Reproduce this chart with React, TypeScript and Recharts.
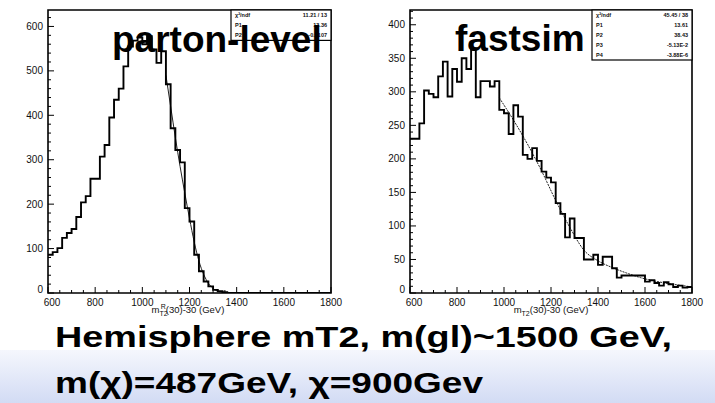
import React from "react";
import {
  ComposedChart,
  Line,
  XAxis,
  YAxis,
  ReferenceArea,
} from "recharts";

// bin lower edges (20 GeV bins), last entry closes the final bin
const binEdges = [
  600, 620, 640, 660, 680, 700, 720, 740, 760, 780, 800, 820, 840, 860, 880,
  900, 920, 940, 960, 980, 1000, 1020, 1040, 1060, 1080, 1100, 1120, 1140,
  1160, 1180, 1200, 1220, 1240, 1260, 1280, 1300, 1320, 1340, 1360, 1380,
  1400, 1420, 1440, 1460, 1480, 1500, 1520, 1540, 1560, 1580, 1600, 1620,
  1640, 1660, 1680, 1700, 1720, 1740, 1760, 1780, 1800,
];

const partonCounts = [
  86, 92, 101, 124, 135, 144, 171, 204, 218, 257, 257, 307, 333, 395, 435,
  460, 510, 555, 568, 575, 560, 578, 548, 518, 544, 470, 371, 322, 294, 191,
  161, 86, 49, 26, 15, 7, 4, 2, 0, 0, 0, 0, 0, 0, 0, 0, 0, 0, 0, 0, 0, 0, 0,
  0, 0, 0, 0, 0, 0, 0,
];

const fastsimCounts = [
  230, 230, 253, 302, 297, 292, 323, 345, 293, 334, 315, 350, 334, 365, 292,
  316, 316, 308, 316, 273, 268, 237, 280, 263, 206, 200, 216, 197, 181, 172,
  165, 134, 118, 83, 111, 82, 82, 50, 50, 57, 42, 54, 54, 37, 23, 26, 26, 26,
  26, 26, 17, 19, 15, 11, 16, 13, 9, 11, 8, 9,
];

// fit curves
const partonFitX = [1100, 1120, 1140, 1160, 1180, 1200, 1220, 1240, 1260, 1280, 1300, 1320, 1340];
const partonFitY = [490, 420, 350, 285, 225, 168, 115, 72, 42, 22, 10, 4, 1];
const fastsimFitX = [980, 1040, 1100, 1160, 1220, 1280, 1340, 1400, 1460, 1520, 1580, 1640, 1700, 1760, 1800];
const fastsimFitY = [291, 258, 222, 182, 138, 98, 64, 48, 38, 30, 23, 18, 14, 11, 9];

const xMajorTicks = [600, 800, 1000, 1200, 1400, 1600, 1800];
const partonYMajor = [0, 100, 200, 300, 400, 500, 600];
const fastsimYMajor = [0, 50, 100, 150, 200, 250, 300, 350, 400];

const partonStats = [
  ["\u03C7\u00B2/ndf", "11.21 / 13"],
  ["P1", "13.36"],
  ["P2", "-0.0107"],
];
const fastsimStats = [
  ["\u03C7\u00B2/ndf", "45.45 / 38"],
  ["P1", "13.61"],
  ["P2", "38.43"],
  ["P3", "-5.13E-2"],
  ["P4", "-3.88E-6"],
];

const PLOT_LEFT = 48;
const PLOT_BOTTOM = 293;
const FONT = "'Liberation Sans', Arial, Helvetica, sans-serif";

const subdivide = (majors: number[], parts: number, max: number) => {
  const out: number[] = [];
  const step = (majors[1] - majors[0]) / parts;
  for (let v = majors[0]; v <= max + 1e-6; v += step) out.push(Math.round(v));
  return out;
};

const toHist = (counts: number[]) =>
  binEdges.map((x, i) => ({ x, y: counts[Math.min(i, counts.length - 1)] }));

const toFit = (xs: number[], ys: number[]) => xs.map((x, i) => ({ x, y: ys[i] }));

function makeYTick(majors: number[]) {
  return (props: any) => {
    const { y, payload } = props;
    const v = payload.value;
    const major = majors.includes(v);
    return (
      <g>
        <line x1={PLOT_LEFT} x2={PLOT_LEFT + (major ? 6 : 3)} y1={y} y2={y} stroke="#000" strokeWidth={1} />
        {major && (
          <text x={PLOT_LEFT - 5} y={v === 0 ? y - 4 : y} dy="0.35em" textAnchor="end" fontSize={10} fontFamily={FONT} fill="#111">
            {v}
          </text>
        )}
      </g>
    );
  };
}

const XTick = (props: any) => {
  const { x, payload } = props;
  const v = payload.value;
  const major = xMajorTicks.includes(v);
  return (
    <g>
      <line x1={x} x2={x} y1={PLOT_BOTTOM} y2={PLOT_BOTTOM - (major ? 6 : 3)} stroke="#000" strokeWidth={1} />
      {major && (
        <text x={v === 600 ? x + 4 : x} y={PLOT_BOTTOM + 9} dy="0.35em" textAnchor="middle" fontSize={10} fontFamily={FONT} fill="#111">
          {v}
        </text>
      )}
    </g>
  );
};

type PanelProps = {
  left: number;
  rightMargin: number;
  counts: number[];
  fit: { x: number; y: number }[];
  yMax: number;
  yMajor: number[];
  yParts: number;
  dashedFit?: boolean;
};

function Panel({ left, rightMargin, counts, fit, yMax, yMajor, yParts, dashedFit }: PanelProps) {
  const yTicks = subdivide(yMajor, yParts, yMax);
  const xTicks = subdivide(xMajorTicks, 4, 1800);
  return (
    <div style={{ position: "absolute", left, top: 0 }}>
      <ComposedChart width={345} height={320} margin={{ top: 10, right: rightMargin, bottom: 0, left: 0 }}>
        <XAxis
          type="number"
          dataKey="x"
          domain={[600, 1800]}
          ticks={xTicks}
          interval={0}
          axisLine={false}
          tickLine={false}
          tick={XTick}
          height={27}
          allowDataOverflow
        />
        <YAxis
          type="number"
          domain={[0, yMax]}
          ticks={yTicks}
          interval={0}
          axisLine={false}
          tickLine={false}
          tick={makeYTick(yMajor)}
          width={48}
          allowDataOverflow
        />
        <ReferenceArea x1={600} x2={1800} y1={0} y2={yMax} fill="none" stroke="#000" strokeWidth={1.6} ifOverflow="visible" />
        <Line
          data={fit}
          dataKey="y"
          type="monotone"
          stroke="#222"
          strokeWidth={1}
          strokeDasharray={dashedFit ? "2 1" : undefined}
          dot={false}
          isAnimationActive={false}
        />
        <Line
          data={toHist(counts)}
          dataKey="y"
          type="stepAfter"
          stroke="#000"
          strokeWidth={1.9}
          dot={false}
          isAnimationActive={false}
        />
      </ComposedChart>
    </div>
  );
}

function StatsBox({ x, y, w, rows }: { x: number; y: number; w: number; rows: string[][] }) {
  const rowH = 9.8;
  return (
    <g fontFamily={FONT} fontSize={5.5} fontWeight="bold" fill="#111">
      <rect x={x} y={y} width={w} height={rows.length * rowH + 1} fill="#fff" stroke="#000" strokeWidth={1.2} />
      {rows.map((r, i) => (
        <g key={i}>
          <text x={x + 4} y={y + rowH * (i + 1) - 2.5}>{r[0]}</text>
          <text x={x + w - 4} y={y + rowH * (i + 1) - 2.5} textAnchor="end">{r[1]}</text>
        </g>
      ))}
    </g>
  );
}

export default function App() {
  return (
    <div style={{ position: "absolute", left: 0, top: 0, width: 715, height: 403, background: "#fff", overflow: "hidden" }}>
      <div
        style={{
          position: "absolute",
          left: 0,
          top: 350,
          width: 715,
          height: 53,
          background: "linear-gradient(to bottom, #f5f7fd, #d2dbf4)",
        }}
      />
      <Panel left={0} rightMargin={14} counts={partonCounts} fit={toFit(partonFitX, partonFitY)} yMax={637} yMajor={partonYMajor} yParts={5} />
      <Panel left={362} rightMargin={15} counts={fastsimCounts} fit={toFit(fastsimFitX, fastsimFitY)} yMax={422} yMajor={fastsimYMajor} yParts={5} dashedFit />
      <svg width={715} height={403} style={{ position: "absolute", left: 0, top: 0, pointerEvents: "none" }}>
        <StatsBox x={231} y={10} w={100} rows={partonStats} />
        <StatsBox x={592} y={10} w={100} rows={fastsimStats} />
        <g fontFamily={FONT} fontSize={9.5} fill="#111">
          <text x={188} y={313} textAnchor="middle">
            m<tspan dy={3} fontSize={7}>T2</tspan>
            <tspan dx={-7} dy={-7} fontSize={7}>R</tspan>
            <tspan dy={4}>(30)-30 (GeV)</tspan>
          </text>
          <text x={551} y={313} textAnchor="middle">
            m<tspan dy={3} fontSize={7}>T2</tspan>
            <tspan dy={-3}>(30)-30 (GeV)</tspan>
          </text>
        </g>
        <g fontFamily={FONT} fontWeight="bold" fill="#000">
          <text x={112} y={52} fontSize={37}>parton-level</text>
          <text x={455} y={51} fontSize={37}>fastsim</text>
          <text x={55} y={347} fontSize={30} textLength={617} lengthAdjust="spacingAndGlyphs">
            Hemisphere mT2, m(gl)~1500 GeV,
          </text>
          <text x={55} y={393} fontSize={30} textLength={428} lengthAdjust="spacingAndGlyphs">
            m(χ)=487GeV, χ=900Gev
          </text>
        </g>
      </svg>
    </div>
  );
}
